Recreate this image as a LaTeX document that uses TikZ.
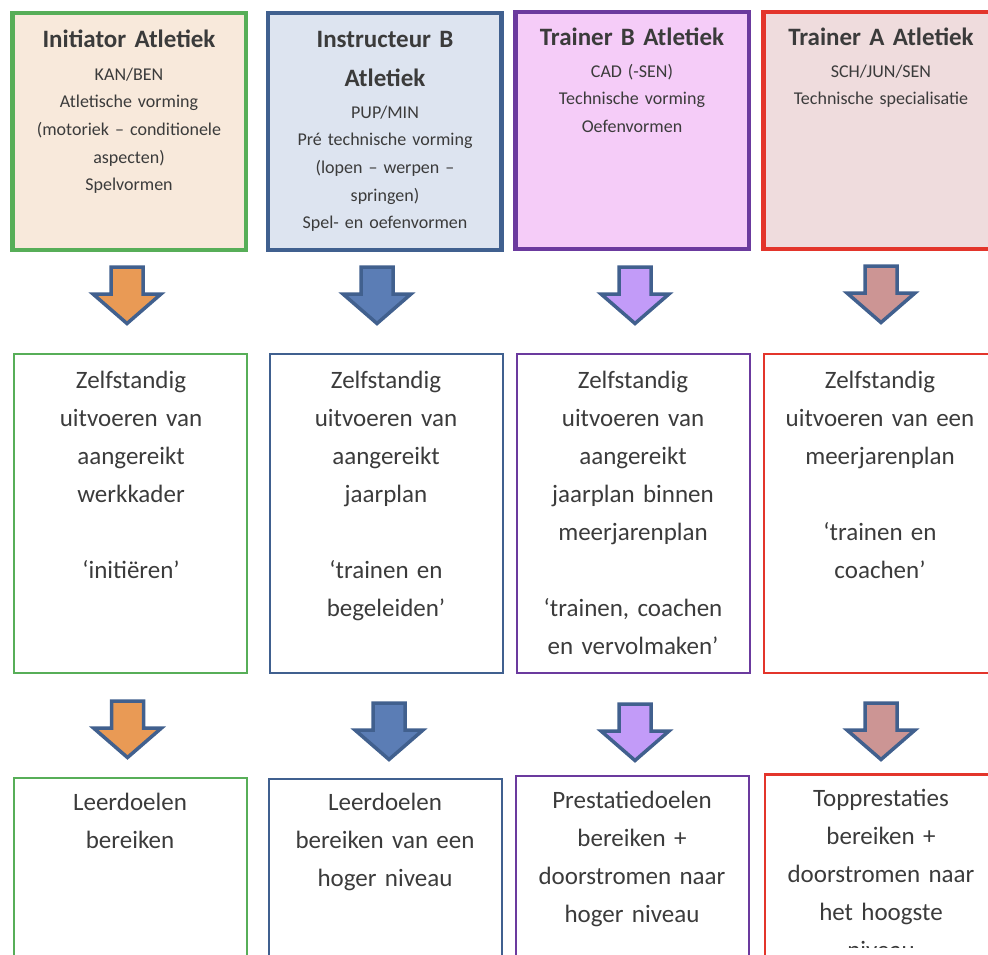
\documentclass[tikz,border=0pt]{standalone}
\usepackage{fontspec}
\setmainfont{Carlito}
\definecolor{tekst}{HTML}{3B3B3B}
\definecolor{groen}{HTML}{57AE58}
\definecolor{blauwrand}{HTML}{40608F}
\definecolor{paarsrand}{HTML}{6B3A9E}
\definecolor{rood}{HTML}{E3352B}
\definecolor{perzik}{HTML}{F8E9DB}
\definecolor{lichtblauw}{HTML}{DDE4F0}
\definecolor{roze}{HTML}{F5CCF8}
\definecolor{oudroze}{HTML}{EFDCDD}
\definecolor{pijlrand}{HTML}{41608E}
\definecolor{oranje}{HTML}{E99A55}
\definecolor{blauw}{HTML}{5B7DB5}
\definecolor{lila}{HTML}{C29BF8}
\definecolor{bruinroze}{HTML}{CC9594}
\tikzset{
	kop/.style={line width=4.5pt, minimum width=233.5pt, minimum height=237pt, inner sep=0pt},
	vak/.style={line width=2pt, minimum width=233pt, minimum height=319pt, inner sep=0pt},
	doelvak/.style={line width=2pt, minimum width=233pt, minimum height=300pt, inner sep=0pt, anchor=north},
	titel/.style={anchor=base, text width=232pt, align=center, text=tekst, inner sep=0pt, font=\fontsize{25}{39}\selectfont\bfseries},
	sub/.style={anchor=base, text width=232pt, align=center, text=tekst, inner sep=0pt, font=\fontsize{18}{27.7}\selectfont},
	groot/.style={anchor=base, text width=228pt, align=center, text=tekst, inner sep=0pt, font=\fontsize{25}{38}\selectfont},
	pijl/.style={draw=pijlrand, line width=3.5pt, line join=miter},
}
\begin{document}
\begin{tikzpicture}[x=1pt,y=-1pt]
	\useasboundingbox (0,0) rectangle (988,954);
	% bovenste rij
	\node[kop, draw=groen, fill=perzik] (kop1) at (129,131.5) {};
	\node[kop, draw=blauwrand, fill=lichtblauw] (kop2) at (384.5,131.5) {};
	\node[kop, draw=paarsrand, fill=roze] (kop3) at (632,130.5) {};
	\node[kop, draw=rood, fill=oudroze] (kop4) at (880,130.5) {};
	\node[titel] (titel1) at (129,47) {Initiator Atletiek};
	\node[sub] (sub1) at (129,80) {KAN/BEN\\Atletische vorming\\(motoriek – conditionele\\aspecten)\\Spelvormen};
	\node[titel] (titel2) at (385,47) {Instructeur B\\Atletiek};
	\node[sub] (sub2) at (385,118) {PUP/MIN\\Pré technische vorming\\(lopen – werpen –\\springen)\\Spel- en oefenvormen};
	\node[titel] (titel3) at (632,45) {Trainer B Atletiek};
	\node[sub] (sub3) at (632,77) {CAD (-SEN)\\Technische vorming\\Oefenvormen};
	\node[titel] (titel4) at (881,45) {Trainer A Atletiek};
	\node[sub] (sub4) at (881,77) {SCH/JUN/SEN\\Technische specialisatie};
	% pijlen
	\foreach \x/\y/\kleur in {127/265/oranje, 377/265/blauw, 635/265/lila, 881/264/bruinroze, 127.5/699/oranje, 389/701/blauw, 635/702/lila, 881/701/bruinroze}
		\draw[pijl, fill=\kleur] (\x-16,\y+2) -- (\x+16,\y+2) -- (\x+16,\y+29) -- (\x+34,\y+29) -- (\x,\y+58.5) -- (\x-34,\y+29) -- (\x-16,\y+29) -- cycle;
	% middelste rij
	\node[vak, draw=groen] (taak1) at (130.5,513.5) {};
	\node[vak, draw=blauwrand] (taak2) at (386,513.5) {};
	\node[vak, draw=paarsrand] (taak3) at (633,513.5) {};
	\node[vak, draw=rood] (taak4) at (880,513.5) {};
	\node[groot] (tekst1) at (131,388) {Zelfstandig\\uitvoeren van\\aangereikt\\werkkader\\[38pt]‘initiëren’};
	\node[groot] (tekst2) at (386,388) {Zelfstandig\\uitvoeren van\\aangereikt\\jaarplan\\[38pt]‘trainen en\\begeleiden’};
	\node[groot] (tekst3) at (633,388) {Zelfstandig\\uitvoeren van\\aangereikt\\jaarplan binnen\\meerjarenplan\\[38pt]‘trainen, coachen\\en vervolmaken’};
	\node[groot] (tekst4) at (880,388) {Zelfstandig\\uitvoeren van een\\meerjarenplan\\[38pt]‘trainen en\\coachen’};
	% onderste rij
	\node[doelvak, draw=groen] (doel1) at (130,777) {};
	\node[doelvak, draw=blauwrand] (doel2) at (385,778) {};
	\node[doelvak, draw=paarsrand] (doel3) at (632.5,775) {};
	\node[doelvak, draw=rood, line width=2.5pt] (doel4) at (881.5,773) {};
	\node[groot] (doeltekst1) at (130,810) {Leerdoelen\\bereiken};
	\node[groot] (doeltekst2) at (385,810) {Leerdoelen\\bereiken van een\\hoger niveau};
	\node[groot] (doeltekst3) at (632,808) {Prestatiedoelen\\bereiken +\\doorstromen naar\\hoger niveau};
	\begin{scope}
		\clip (765,772) rectangle (988,947);
		\node[groot] (doeltekst4) at (881,806) {Topprestaties\\bereiken +\\doorstromen naar\\het hoogste\\niveau};
	\end{scope}
\end{tikzpicture}
\end{document}
